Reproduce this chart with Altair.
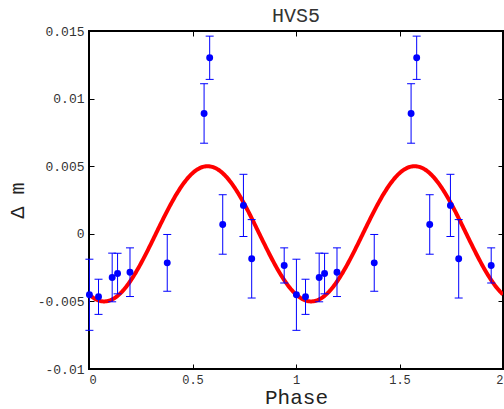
import altair as alt
import pandas as pd
import numpy as np

# Folded light curve of HVS5 (one cycle, repeated at phase + 1)
phase = [0.002, 0.046, 0.112, 0.138, 0.198, 0.378, 0.556, 0.583, 0.646, 0.746, 0.786, 0.943]
dm = [-0.00451, -0.00466, -0.00323, -0.00294, -0.00284, -0.00215,
      0.0089, 0.01302, 0.00069, 0.0021, -0.00185, -0.00234]
err = [0.00263, 0.0013, 0.0018, 0.0015, 0.0018, 0.0021,
       0.0022, 0.0016, 0.0022, 0.0023, 0.0029, 0.0013]
cycles = [0, 1]

# Sinusoidal model fit parameters
amp = 0.005
peak_phase = 0.573

x_ticks = [0, 0.5, 1, 1.5, 2]
y_ticks = [-0.01, -0.005, 0, 0.005, 0.01, 0.015]

rows = []
for c in cycles:
    for p, v, e in zip(phase, dm, err):
        rows.append({"phase": p + c, "dm": v, "lo": v - e, "hi": v + e})
pts = pd.DataFrame(rows)

grid = np.linspace(0, 2, 401)
curve = pd.DataFrame({"phase": grid,
                      "dm": amp * np.cos(2 * np.pi * (grid - peak_phase))})

W, H = 414, 338
FONT = "Liberation Mono"
xs = alt.Scale(domain=[0, 2], nice=False, zero=False)
ys = alt.Scale(domain=[-0.01, 0.015], nice=False, zero=False)
lab = "'' + datum.value"
x_in = x_ticks[1:-1]
y_in = y_ticks[1:-1]


def tick_axis(orient, offset, values):
    return alt.Axis(orient=orient, offset=offset, values=values, labels=False,
                    domain=False, ticks=True, tickSize=5, tickColor="black",
                    tickWidth=1, title=None, grid=False)


line = alt.Chart(curve).mark_line(color="#ff0000", strokeWidth=4, clip=True).encode(
    x=alt.X("phase:Q", scale=xs, axis=alt.Axis(
        orient="bottom", values=x_ticks, labelExpr=lab, ticks=False, tickSize=0,
        domain=False, grid=False, title="Phase", labelFont=FONT, labelFontSize=12,
        labelColor="#333", labelPadding=5, titleFont=FONT, titleFontSize=21,
        titleFontWeight="normal", titleColor="#222", titleBaseline="alphabetic",
        titleY=34)),
    y=alt.Y("dm:Q", scale=ys, axis=alt.Axis(
        orient="left", values=y_ticks, labelExpr=lab, ticks=False, tickSize=0,
        domain=False, grid=False, title="Δ m", labelFont=FONT, labelFontSize=13,
        labelColor="#333", labelPadding=5, titleFont=FONT, titleFontSize=20,
        titleFontWeight="normal", titleColor="#222", titleAngle=-90,
        titleBaseline="middle", titleAlign="center", titleX=-72, titleY=H / 2)),
)

bars = alt.Chart(pts).mark_rule(color="#0000ff", strokeWidth=1).encode(
    x=alt.X("phase:Q", scale=xs, axis=tick_axis("top", -H, x_in)),
    y=alt.Y("lo:Q", scale=ys, axis=tick_axis("right", -W, y_in)),
    y2="hi:Q",
)

cap_hi = alt.Chart(pts).mark_rule(color="#0000ff", strokeWidth=1,
                                  xOffset=-4, x2Offset=4).encode(
    x=alt.X("phase:Q", scale=xs, axis=tick_axis("bottom", -H, x_in)),
    x2="phase:Q",
    y=alt.Y("hi:Q", scale=ys, axis=tick_axis("left", -W, y_in)),
)

cap_lo = alt.Chart(pts).mark_rule(color="#0000ff", strokeWidth=1,
                                  xOffset=-4, x2Offset=4).encode(
    x=alt.X("phase:Q", scale=xs, axis=None),
    x2="phase:Q",
    y=alt.Y("lo:Q", scale=ys, axis=None),
)

points = alt.Chart(pts).mark_circle(color="#0000ff", opacity=1, size=48).encode(
    x=alt.X("phase:Q", scale=xs, axis=None),
    y=alt.Y("dm:Q", scale=ys, axis=None),
)

chart = alt.layer(line, bars, cap_hi, cap_lo, points).resolve_axis(
    x="independent", y="independent"
).properties(
    width=W, height=H,
    autosize=alt.AutoSizeParams(type="none"),
    padding={"left": 89, "top": 31, "right": 1, "bottom": 40},
    title=alt.Title("HVS5", font=FONT, fontSize=20, fontWeight="normal",
                    color="#333", frame="group", anchor="middle", offset=2, dy=3),
).configure_view(stroke="black", strokeWidth=2)

chart.save("out.html", embed_options={"renderer": "svg", "actions": False})
